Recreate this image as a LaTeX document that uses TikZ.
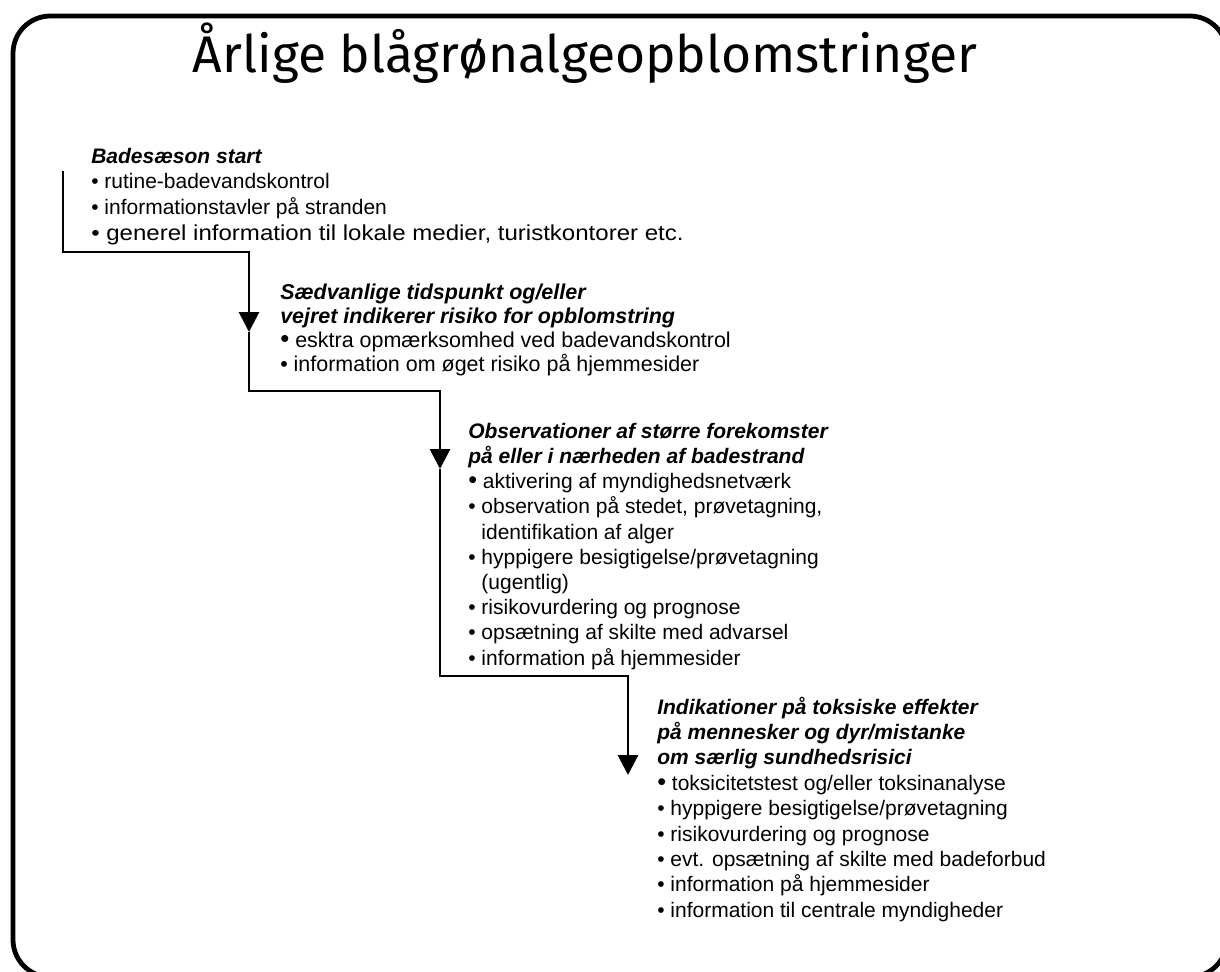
\documentclass[tikz,border=0pt]{standalone}
\usepackage{fontspec}
\usepackage{graphicx}
\setmainfont{Liberation Sans}
\newfontfamily\titlefont{Fira Sans}
\usetikzlibrary{arrows.meta}
\newcommand{\fb}{\scalebox{1.2}{•}\hspace{0.28em}}
\newcommand{\hd}[1]{\textbf{\textit{#1}}}
\begin{document}
\begin{tikzpicture}[x=0.75pt,y=-0.75pt,
  frame/.style={line width=3.6pt, rounded corners=28pt},
  conn/.style={line width=2.2pt, line join=miter},
  arr/.style={conn, -{Triangle[width=15pt,length=15pt]}},
  block/.style={anchor=north west, inner sep=0pt, align=left,
    font=\fontsize{15.75pt}{18.9pt}\selectfont},
  block1/.style={block, font=\fontsize{15.75pt}{19.3pt}\selectfont},
  block2/.style={block, font=\fontsize{16.1pt}{18pt}\selectfont},
  block4/.style={block, font=\fontsize{15.75pt}{19.05pt}\selectfont},
  titlestyle/.style={anchor=base, inner sep=0pt}
]
\useasboundingbox (0,0) rectangle (1220,971);
\clip (0,0) rectangle (1220,971);
\draw[frame] (13,16) rectangle (1227,977);

\node[titlestyle] (title) at (585,72)
  {\resizebox{588pt}{!}{\titlefont Årlige blågrønalgeopblomstringer}};

\node[block1] (b1) at (91,144) {\rule{0pt}{0.9em}\hd{Badesæson start}\\
• rutine-badevandskontrol\\
• informationstavler på stranden\\
\scalebox{1.145}[1.03]{• generel information til lokale medier, turistkontorer etc.}};

\node[block2] (b2) at (280,280.1) {\rule{0pt}{0.9em}\hd{Sædvanlige tidspunkt og/eller}\\
\hd{vejret indikerer risiko for opblomstring}\\
\fb esktra opmærksomhed ved badevandskontrol\\
• information om øget risiko på hjemmesider};

\node[block] (b3) at (468,419.1) {\rule{0pt}{0.9em}\hd{Observationer af større forekomster}\\
\hd{på eller i nærheden af badestrand}\\
\fb aktivering af myndighedsnetværk\\
• observation på stedet, prøvetagning,\\
\phantom{• }identifikation af alger\\
• hyppigere besigtigelse/prøvetagning\\
\phantom{• }(ugentlig)\\
• risikovurdering og prognose\\
• opsætning af skilte med advarsel\\
• information på hjemmesider};

\node[block4] (b4) at (657,695) {\rule{0pt}{0.9em}\hd{Indikationer på toksiske effekter}\\
\hd{på mennesker og dyr/mistanke}\\
\hd{om særlig sundhedsrisici}\\
\fb toksicitetstest og/eller toksinanalyse\\
• hyppigere besigtigelse/prøvetagning\\
• risikovurdering og prognose\\
• evt. opsætning af skilte med badeforbud\\
• information på hjemmesider\\
• information til centrale myndigheder};

\coordinate (s0) at (63,171);
\coordinate (c1) at (63,252);
\coordinate (c2) at (249,252);
\coordinate (t1) at (249,332);
\coordinate (c3) at (249,391);
\coordinate (c4) at (440,391);
\coordinate (t2) at (440,469);
\coordinate (c5) at (440,676);
\coordinate (c6) at (628,676);
\coordinate (t3) at (628,775);

\draw[arr] (s0) -- (c1) -- (c2) -- (t1);
\draw[arr] (t1) -- (c3) -- (c4) -- (t2);
\draw[arr] (t2) -- (c5) -- (c6) -- (t3);
\end{tikzpicture}
\end{document}
